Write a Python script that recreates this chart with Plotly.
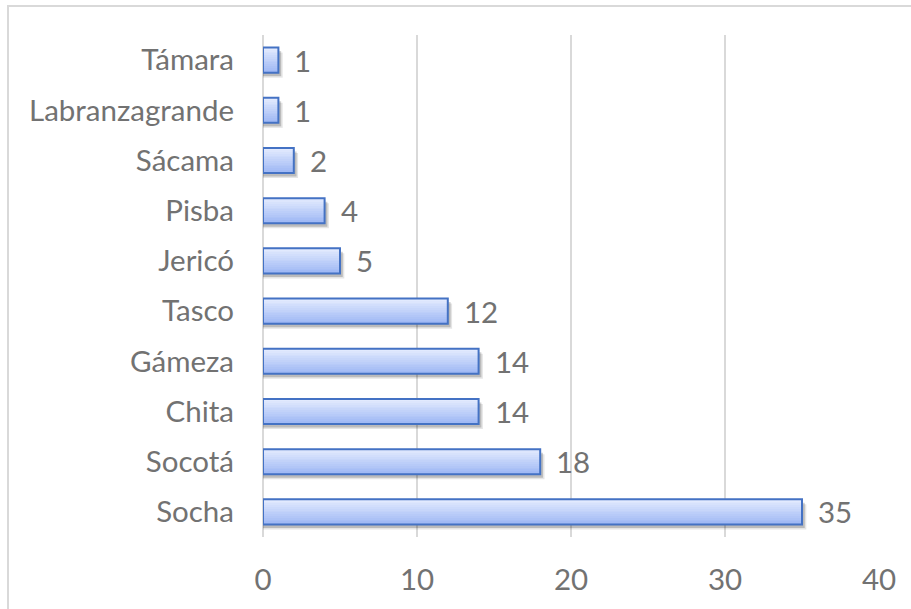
import plotly.graph_objects as go

# Municipalities (bottom to top as drawn) and their counts
municipios = ["Socha", "Socotá", "Chita", "Gámeza", "Tasco",
              "Jericó", "Pisba", "Sácama", "Labranzagrande", "Támara"]
cantidades = [35, 18, 14, 14, 12, 5, 4, 2, 1, 1]
x_ticks = [0, 10, 20, 30, 40]

FONT = "Lato"
FSIZE = 29.5
TXT = "#727272"
GRID = "#d9d9d9"
BAR_W = 0.5
N_SLICES = 14
TOP_RGB = (226, 234, 254)
BOT_RGB = (156, 182, 244)

# plot area in pixels (used for the outer frame)
L, R, T, B = 263, 32, 35, 72
W, H = 911, 609
PW, PH = W - L - R, H - T - B

fig = go.Figure()

# soft drop shadow under each bar
for dx, dy, a in [(0.28, 0.10, 0.10), (0.18, 0.07, 0.18)]:
    fig.add_trace(go.Bar(
        x=[v + dx for v in cantidades], y=municipios, orientation="h",
        width=BAR_W, offset=-BAR_W / 2 - dy,
        marker=dict(color=f"rgba(0,0,0,{a})", line=dict(width=0)),
        hoverinfo="skip", showlegend=False))

# vertical gradient fill built from thin slices
for i in range(N_SLICES):
    t = i / (N_SLICES - 1)
    c = tuple(round(BOT_RGB[k] + (TOP_RGB[k] - BOT_RGB[k]) * t) for k in range(3))
    fig.add_trace(go.Bar(
        x=cantidades, y=municipios, orientation="h",
        width=BAR_W / N_SLICES + 0.002,
        offset=-BAR_W / 2 + i * BAR_W / N_SLICES,
        marker=dict(color=f"rgb{c}", line=dict(width=0)),
        hoverinfo="skip", showlegend=False))

# bar outline
fig.add_trace(go.Bar(
    x=cantidades, y=municipios, orientation="h",
    width=BAR_W, offset=-BAR_W / 2,
    marker=dict(color="rgba(0,0,0,0)", line=dict(color="#4472C4", width=2)),
    showlegend=False))

label_font = dict(family=FONT, size=FSIZE, color=TXT)

# value labels
for m, v in zip(municipios, cantidades):
    fig.add_annotation(x=v, y=m, xref="x", yref="y", text=str(v),
                       showarrow=False, xanchor="left", xshift=14,
                       font=label_font)

# outer chart frame
fig.add_shape(type="rect", xref="paper", yref="paper",
              x0=(8 - L) / PW, x1=(925 - L) / PW,
              y0=(T + PH - 625) / PH, y1=(T + PH - 6) / PH,
              line=dict(color=GRID, width=2), fillcolor="rgba(0,0,0,0)")

fig.update_layout(
    width=W, height=H, barmode="overlay",
    margin=dict(l=L, r=R, t=T, b=B),
    paper_bgcolor="white", plot_bgcolor="white",
    font=label_font,
    xaxis=dict(range=[0, 40], tickvals=x_ticks, showgrid=True,
               gridcolor=GRID, gridwidth=1.5, zeroline=True,
               zerolinecolor=GRID, zerolinewidth=1.5, showline=False,
               ticks="", ticklabelstandoff=22, tickfont=label_font),
    yaxis=dict(range=[-0.5, 9.5], showgrid=False, showline=False,
               ticks="", ticklabelstandoff=28, tickfont=label_font),
)

fig.write_html("out.html")
